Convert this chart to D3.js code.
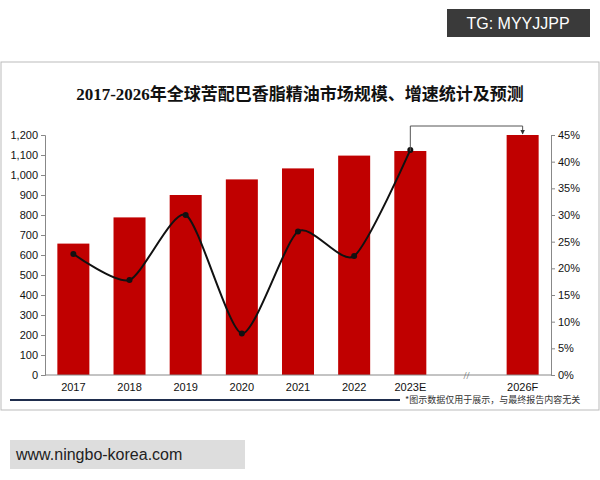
<!DOCTYPE html>
<html><head><meta charset="utf-8">
<script src="https://cdn.jsdelivr.net/npm/d3@7"></script>
<style>body{margin:0;background:#fff;font-family:"Liberation Serif","Noto Sans CJK SC",serif;}</style>
</head><body><div id="chart"></div>
<script>
var categories = ["2017","2018","2019","2020","2021","2022","2023E","//","2026F"];
var marketSize = [657, 788, 900, 978, 1033, 1097, 1120, null, 1200];
var growthRate = [22.7, 17.8, 30.0, 7.8, 26.9, 22.3, 42.2];
var leftTicks = [0,100,200,300,400,500,600,700,800,900,1000,1100,1200];
var rightTicks = [0,5,10,15,20,25,30,35,40,45];

var svg = d3.select("#chart").append("svg").attr("width", 600).attr("height", 480);

// frame
svg.append("rect").attr("x", 1).attr("y", 62).attr("width", 598).attr("height", 348)
  .attr("fill", "none").attr("stroke", "#bbb");
svg.append("rect").attr("x", 447).attr("y", 9).attr("width", 143).attr("height", 28).attr("fill", "#3a3a3a");
svg.append("text").attr("x", 518).attr("y", 29).attr("text-anchor", "middle").attr("fill", "#fff")
  .attr("font-family", "Liberation Sans").attr("font-size", 16).text("TG: MYYJJPP");
svg.append("rect").attr("x", 10).attr("y", 440).attr("width", 235).attr("height", 29).attr("fill", "#ddd");
svg.append("text").attr("x", 16).attr("y", 460).attr("fill", "#222")
  .attr("font-family", "Liberation Sans").attr("font-size", 16).text("www.ningbo-korea.com");

svg.append("text").attr("x", 300).attr("y", 100).attr("text-anchor", "middle")
  .attr("font-weight", "bold").attr("font-size", 17).attr("fill", "#111")
  .text("2017-2026年全球苦配巴香脂精油市场规模、增速统计及预测");

var x = d3.scaleBand().domain(categories).range([45, 551]).paddingInner(0.43).paddingOuter(0.22);
var y = d3.scaleLinear().domain([0, 1200]).range([375, 135]);
var y2 = d3.scaleLinear().domain([0, 45]).range([375, 135]);

var bars = categories.map(function(c, i) { return {c: c, v: marketSize[i]}; }).filter(d => d.v != null);
svg.selectAll("rect.bar").data(bars).enter().append("rect").attr("class", "bar")
  .attr("x", d => x(d.c)).attr("width", x.bandwidth())
  .attr("y", d => y(d.v)).attr("height", d => 375 - y(d.v)).attr("fill", "#c00000");

var leftAxis = svg.append("g").attr("transform", "translate(45,0)")
  .call(d3.axisLeft(y).tickValues(leftTicks).tickSize(4).tickFormat(d3.format(",")));
var rightAxis = svg.append("g").attr("transform", "translate(551,0)")
  .call(d3.axisRight(y2).tickValues(rightTicks).tickSize(4).tickFormat(d => d + "%"));
var bottomAxis = svg.append("g").attr("transform", "translate(0,375)")
  .call(d3.axisBottom(x).tickSize(0).tickPadding(8).tickFormat(d => d == "//" ? "" : d));
bottomAxis.select(".domain").attr("d", "M45,0H551");
[leftAxis, rightAxis, bottomAxis].forEach(function(g) {
  g.selectAll("text").attr("font-size", 11).attr("fill", "#111").attr("font-family", "Liberation Sans");
  g.selectAll("line,path").attr("stroke", "#888");
});
svg.append("text").attr("x", x("//") + x.bandwidth() / 2).attr("y", 379).attr("text-anchor", "middle")
  .attr("font-size", 11).attr("fill", "#666").text("//");

var pts = growthRate.map(function(v, i) { return {c: categories[i], v: v}; });
var line = d3.line().x(d => x(d.c) + x.bandwidth() / 2).y(d => y2(d.v)).curve(d3.curveCardinal.tension(0.3));
svg.append("path").datum(pts).attr("d", line).attr("fill", "none").attr("stroke", "#111").attr("stroke-width", 2);
svg.selectAll("circle").data(pts).enter().append("circle")
  .attr("cx", d => x(d.c) + x.bandwidth() / 2).attr("cy", d => y2(d.v)).attr("r", 3).attr("fill", "#111");

// arrow from 2023E to 2026F
var xa = x("2023E") + x.bandwidth() / 2, xb = x("2026F") + x.bandwidth() / 2;
svg.append("defs").append("marker").attr("id", "ah").attr("viewBox", "0 0 10 10").attr("refX", 9).attr("refY", 5)
  .attr("markerWidth", 5).attr("markerHeight", 5).attr("orient", "auto")
  .append("path").attr("d", "M0,0L10,5L0,10z").attr("fill", "#333");
svg.append("path").attr("d", "M" + xa + "," + y(1120) + "V126H" + xb + "V" + (y(1200) - 1))
  .attr("fill", "none").attr("stroke", "#555").attr("marker-end", "url(#ah)");

svg.append("line").attr("x1", 10).attr("x2", 400).attr("y1", 400).attr("y2", 400).attr("stroke", "#1f2d4d").attr("stroke-width", 2);
svg.append("text").attr("x", 405).attr("y", 403).attr("font-size", 9).attr("fill", "#333")
  .attr("font-family", "Noto Sans CJK SC").text("*图示数据仅用于展示，与最终报告内容无关");
</script></body></html>
